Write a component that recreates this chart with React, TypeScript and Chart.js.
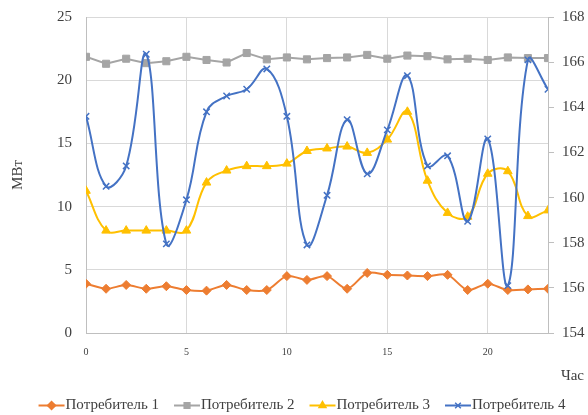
import React, { useEffect, useRef } from 'react';
import { Chart, registerables } from 'chart.js';
import { drawPoint } from 'chart.js/helpers';

Chart.register(...registerables);

const hours = [0, 1, 2, 3, 4, 5, 6, 7, 8, 9, 10, 11, 12, 13, 14, 15, 16, 17, 18, 19, 20, 21, 22, 23];
const consumer1 = [3.9, 3.5, 3.8, 3.5, 3.7, 3.4, 3.35, 3.8, 3.4, 3.4, 4.5, 4.2, 4.5, 3.5, 4.75, 4.6, 4.55, 4.5, 4.6, 3.4, 3.9, 3.4, 3.45, 3.5];
const consumer2 = [21.85, 21.3, 21.7, 21.35, 21.5, 21.85, 21.6, 21.4, 22.15, 21.65, 21.8, 21.65, 21.75, 21.8, 22.0, 21.7, 21.95, 21.9, 21.65, 21.7, 21.6, 21.8, 21.75, 21.75];
const consumer3 = [11.25, 8.1, 8.1, 8.1, 8.1, 8.1, 11.9, 12.85, 13.2, 13.2, 13.4, 14.4, 14.6, 14.75, 14.25, 15.3, 17.5, 12.05, 9.5, 9.2, 12.6, 12.8, 9.25, 9.7];
const consumer4 = [163.6, 160.5, 161.4, 166.35, 157.95, 159.9, 163.8, 164.5, 164.8, 165.7, 163.6, 157.9, 160.1, 163.45, 161.05, 163.0, 165.4, 161.4, 161.85, 158.95, 162.6, 156.1, 166.1, 164.8];

const seriesNames = ['Потребитель 1', 'Потребитель 2', 'Потребитель 3', 'Потребитель 4'];
const xTickValues = [0, 5, 10, 15, 20];
const yTitle = 'МВт';
const xTitle = 'Час';

const colors = ['#ED7D31', '#A5A5A5', '#FFC000', '#4472C4'];
const pointStyles = ['rectRot', 'rect', 'triangle', 'crossRot'];
const pointRadii = [4.5, 5, 5, 4.5];
const FONT = "'Liberation Serif', 'DejaVu Serif', serif";
const TEXT = '#404040';

const overlayPlugin = {
  id: 'overlayText',
  afterDraw(chart: any) {
    const ctx = chart.ctx as CanvasRenderingContext2D;
    ctx.save();
    ctx.font = `15px ${FONT}`;
    ctx.fillStyle = TEXT;
    ctx.textBaseline = 'middle';
    ctx.textAlign = 'right';
    ctx.fillText(xTitle, 584, 376);

    ctx.textAlign = 'left';
    const widths = seriesNames.map((n) => ctx.measureText(n).width);
    const lineW = 26;
    const gap = 1;
    const spacing = 15;
    const total = widths.reduce((a, w) => a + lineW + gap + w, 0) + spacing * (seriesNames.length - 1);
    let x = 302 - total / 2;
    const y = 405.5;
    seriesNames.forEach((name, i) => {
      ctx.strokeStyle = colors[i];
      ctx.fillStyle = colors[i];
      ctx.lineWidth = 2;
      ctx.beginPath();
      ctx.moveTo(x, y);
      ctx.lineTo(x + lineW, y);
      ctx.stroke();
      ctx.lineWidth = 1.5;
      drawPoint(ctx, { pointStyle: pointStyles[i], radius: 4, rotation: 0, borderWidth: 1.5 } as any, x + lineW / 2, y);
      ctx.fillStyle = TEXT;
      ctx.fillText(name, x + lineW + gap, y);
      x += lineW + gap + widths[i] + spacing;
    });
    ctx.restore();
  },
};

export default function App() {
  const canvasRef = useRef<HTMLCanvasElement | null>(null);

  useEffect(() => {
    if (!canvasRef.current) return;
    const series = [consumer1, consumer2, consumer3, consumer4];
    const tensions = [0.3, 0, 0.4, 0.4];
    const datasets = series.map((vals, i) => ({
      label: seriesNames[i],
      data: hours.map((h, j) => ({ x: h, y: vals[j] })),
      yAxisID: i === 3 ? 'y1' : 'y',
      borderColor: colors[i],
      backgroundColor: colors[i],
      borderWidth: 2,
      pointStyle: pointStyles[i],
      pointRadius: pointRadii[i],
      pointBorderWidth: i === 3 ? 1.5 : 1,
      pointBackgroundColor: colors[i],
      pointBorderColor: colors[i],
      tension: tensions[i],
      order: 3 - i,
      fill: false,
    }));

    const chart = new Chart(canvasRef.current, {
      type: 'line',
      data: { datasets },
      options: {
        animation: false,
        responsive: false,
        devicePixelRatio: 1,
        layout: { padding: { top: 17, left: 0, right: 0, bottom: 0 } },
        plugins: { legend: { display: false }, tooltip: { enabled: false } },
        scales: {
          x: {
            type: 'linear',
            min: 0,
            max: 23,
            afterFit: (s: any) => { s.height = 82; s.paddingLeft = 0; s.paddingRight = 0; },
            afterBuildTicks: (s: any) => { s.ticks = xTickValues.map((v) => ({ value: v })); },
            ticks: { font: { size: 10, family: FONT }, color: TEXT, padding: 13, maxRotation: 0 },
            grid: { color: '#d9d9d9', drawTicks: false, lineWidth: 1 },
            border: { color: '#bfbfbf' },
          },
          y: {
            position: 'left',
            min: 0,
            max: 25,
            afterFit: (s: any) => { s.width = 86; s.paddingTop = 0; s.paddingBottom = 0; },
            ticks: { stepSize: 5, font: { size: 15, family: FONT }, color: TEXT, padding: 14 },
            grid: { color: '#d9d9d9', drawTicks: false, lineWidth: 1 },
            border: { color: '#bfbfbf' },
            title: { display: true, text: yTitle, font: { size: 15, family: FONT }, color: TEXT, padding: { top: 9, bottom: 0 } },
          },
          y1: {
            position: 'right',
            min: 154,
            max: 168,
            afterFit: (s: any) => { s.width = 40; s.paddingTop = 0; s.paddingBottom = 0; },
            ticks: { stepSize: 2, font: { size: 15, family: FONT }, color: TEXT, padding: 8 },
            grid: { drawOnChartArea: false, color: '#bfbfbf', tickLength: 6 },
            border: { color: '#bfbfbf' },
          },
        },
      },
      plugins: [overlayPlugin],
    });
    return () => chart.destroy();
  }, []);

  return (
    <div style={{ position: 'fixed', left: 0, top: 0, width: 588, height: 415, background: '#fff' }}>
      <canvas ref={canvasRef} width={588} height={415} style={{ width: 588, height: 415, display: 'block' }} />
    </div>
  );
}
